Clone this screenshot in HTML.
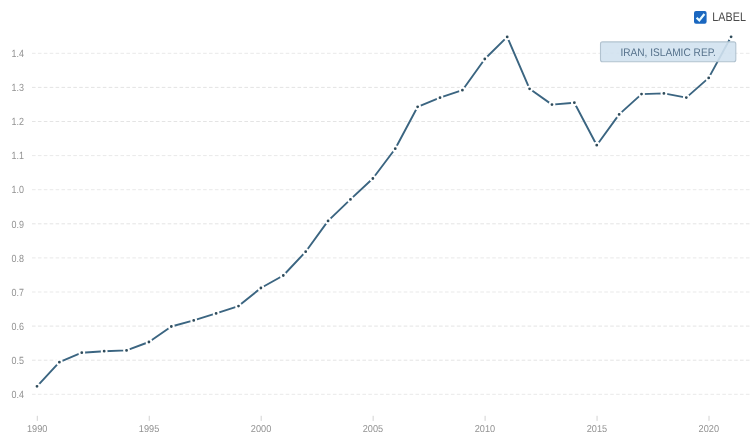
<!DOCTYPE html>
<html><head><meta charset="utf-8"><style>
html,body{margin:0;padding:0;background:#fff;width:750px;height:443px;overflow:hidden;}
svg{display:block;will-change:transform;}
text{font-family:"Liberation Sans",sans-serif;}
.g line{stroke-width:1;}
.g line.a{stroke:#e9e9e9;stroke-dasharray:3.6 2.3;}
.g line.b{stroke:#e4e4e4;stroke-dasharray:3.6 2.3;}
.yl text{font-size:10.4px;fill:#929292;text-anchor:end;}
.xl text{font-size:10.0px;fill:#929292;}
.xt line{stroke:#d2d2d2;stroke-width:1;}
.mk circle{fill:#2f4b5a;stroke:#fff;stroke-width:2;}
</style></head><body>
<svg width="750" height="443" viewBox="0 0 750 443">
<g class="g"><line class="a" x1="32" y1="53.30" x2="750" y2="53.30"/><line class="b" x1="32" y1="87.40" x2="750" y2="87.40"/><line class="b" x1="32" y1="121.50" x2="750" y2="121.50"/><line class="a" x1="32" y1="155.60" x2="750" y2="155.60"/><line class="a" x1="32" y1="189.70" x2="750" y2="189.70"/><line class="b" x1="32" y1="223.80" x2="750" y2="223.80"/><line class="a" x1="32" y1="257.90" x2="750" y2="257.90"/><line class="a" x1="32" y1="292.00" x2="750" y2="292.00"/><line class="b" x1="32" y1="326.10" x2="750" y2="326.10"/><line class="b" x1="32" y1="360.20" x2="750" y2="360.20"/><line class="a" x1="32" y1="394.30" x2="750" y2="394.30"/></g>
<g class="yl"><text transform="translate(24.00 57.00) skewX(0.3)" textLength="12.5" lengthAdjust="spacingAndGlyphs">1.4</text><text transform="translate(24.00 91.10) skewX(0.3)" textLength="12.5" lengthAdjust="spacingAndGlyphs">1.3</text><text transform="translate(24.00 125.20) skewX(0.3)" textLength="12.5" lengthAdjust="spacingAndGlyphs">1.2</text><text transform="translate(24.00 159.30) skewX(0.3)" textLength="12.5" lengthAdjust="spacingAndGlyphs">1.1</text><text transform="translate(24.00 193.40) skewX(0.3)" textLength="12.5" lengthAdjust="spacingAndGlyphs">1.0</text><text transform="translate(24.00 227.50) skewX(0.3)" textLength="12.5" lengthAdjust="spacingAndGlyphs">0.9</text><text transform="translate(24.00 261.60) skewX(0.3)" textLength="12.5" lengthAdjust="spacingAndGlyphs">0.8</text><text transform="translate(24.00 295.70) skewX(0.3)" textLength="12.5" lengthAdjust="spacingAndGlyphs">0.7</text><text transform="translate(24.00 329.80) skewX(0.3)" textLength="12.5" lengthAdjust="spacingAndGlyphs">0.6</text><text transform="translate(24.00 363.90) skewX(0.3)" textLength="12.5" lengthAdjust="spacingAndGlyphs">0.5</text><text transform="translate(24.00 398.00) skewX(0.3)" textLength="12.5" lengthAdjust="spacingAndGlyphs">0.4</text></g>
<g class="xt"><line x1="37.30" y1="415.8" x2="37.30" y2="420.9"/><line x1="149.25" y1="415.8" x2="149.25" y2="420.9"/><line x1="261.20" y1="415.8" x2="261.20" y2="420.9"/><line x1="373.15" y1="415.8" x2="373.15" y2="420.9"/><line x1="485.10" y1="415.8" x2="485.10" y2="420.9"/><line x1="597.05" y1="415.8" x2="597.05" y2="420.9"/><line x1="709.00" y1="415.8" x2="709.00" y2="420.9"/></g>
<g class="xl"><text transform="translate(26.90 432.00) skewX(0.3)" textLength="20.5" lengthAdjust="spacingAndGlyphs">1990</text><text transform="translate(138.85 432.00) skewX(0.3)" textLength="20.5" lengthAdjust="spacingAndGlyphs">1995</text><text transform="translate(250.80 432.00) skewX(0.3)" textLength="20.5" lengthAdjust="spacingAndGlyphs">2000</text><text transform="translate(362.75 432.00) skewX(0.3)" textLength="20.5" lengthAdjust="spacingAndGlyphs">2005</text><text transform="translate(474.70 432.00) skewX(0.3)" textLength="20.5" lengthAdjust="spacingAndGlyphs">2010</text><text transform="translate(586.65 432.00) skewX(0.3)" textLength="20.5" lengthAdjust="spacingAndGlyphs">2015</text><text transform="translate(698.60 432.00) skewX(0.3)" textLength="20.5" lengthAdjust="spacingAndGlyphs">2020</text></g>
<path d="M37.00 386.30 L59.39 362.20 L81.78 352.70 L104.17 351.20 L126.56 350.40 L148.95 342.00 L171.34 326.50 L193.73 320.40 L216.12 313.40 L238.51 306.10 L260.90 288.00 L283.29 275.50 L305.68 251.70 L328.07 220.90 L350.46 199.40 L372.85 178.50 L395.24 148.70 L417.63 106.80 L440.02 97.70 L462.41 90.20 L484.80 59.00 L507.19 36.90 L529.58 88.80 L551.97 104.60 L574.36 102.70 L596.75 145.20 L619.14 114.40 L641.53 94.10 L663.92 93.40 L686.31 97.60 L708.70 77.90 L731.09 36.80" fill="none" stroke="#3b6581" stroke-width="1.9" stroke-linejoin="round" stroke-linecap="round"/>
<g class="mk"><circle cx="37.00" cy="386.30" r="2.4"/><circle cx="59.39" cy="362.20" r="2.4"/><circle cx="81.78" cy="352.70" r="2.4"/><circle cx="104.17" cy="351.20" r="2.4"/><circle cx="126.56" cy="350.40" r="2.4"/><circle cx="148.95" cy="342.00" r="2.4"/><circle cx="171.34" cy="326.50" r="2.4"/><circle cx="193.73" cy="320.40" r="2.4"/><circle cx="216.12" cy="313.40" r="2.4"/><circle cx="238.51" cy="306.10" r="2.4"/><circle cx="260.90" cy="288.00" r="2.4"/><circle cx="283.29" cy="275.50" r="2.4"/><circle cx="305.68" cy="251.70" r="2.4"/><circle cx="328.07" cy="220.90" r="2.4"/><circle cx="350.46" cy="199.40" r="2.4"/><circle cx="372.85" cy="178.50" r="2.4"/><circle cx="395.24" cy="148.70" r="2.4"/><circle cx="417.63" cy="106.80" r="2.4"/><circle cx="440.02" cy="97.70" r="2.4"/><circle cx="462.41" cy="90.20" r="2.4"/><circle cx="484.80" cy="59.00" r="2.4"/><circle cx="507.19" cy="36.90" r="2.4"/><circle cx="529.58" cy="88.80" r="2.4"/><circle cx="551.97" cy="104.60" r="2.4"/><circle cx="574.36" cy="102.70" r="2.4"/><circle cx="596.75" cy="145.20" r="2.4"/><circle cx="619.14" cy="114.40" r="2.4"/><circle cx="641.53" cy="94.10" r="2.4"/><circle cx="663.92" cy="93.40" r="2.4"/><circle cx="686.31" cy="97.60" r="2.4"/><circle cx="708.70" cy="77.90" r="2.4"/><circle cx="731.09" cy="36.80" r="2.4"/></g>
<rect x="600.5" y="41.9" width="135.3" height="19.8" rx="2" fill="#d2e2f0" fill-opacity="0.9" stroke="#b2c3d0" stroke-width="1.1"/>
<text transform="translate(620.40 56.00) skewX(0.3)" font-size="11px" fill="#55718b" textLength="95.5" lengthAdjust="spacingAndGlyphs">IRAN, ISLAMIC REP.</text>
<rect x="694" y="11" width="12.6" height="12.7" rx="2" fill="#1a67c0"/>
<path d="M696.6 17.8 L699.3 20.4 L704.4 14" fill="none" stroke="#e8fbff" stroke-width="2.2"/>
<text transform="translate(712.30 20.80) skewX(0.3)" font-size="12.4px" fill="#4a4a4a" textLength="33.6" lengthAdjust="spacingAndGlyphs">LABEL</text>
</svg>
</body></html>
